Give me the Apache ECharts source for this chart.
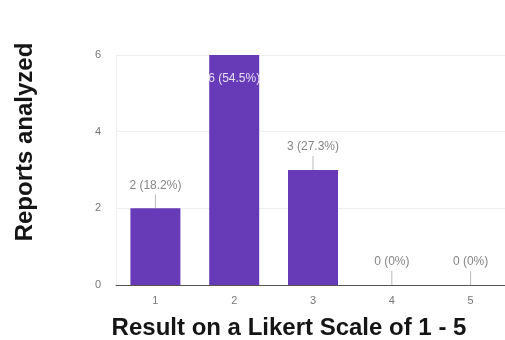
<!DOCTYPE html>
<html>
<head>
<meta charset="utf-8">
<script src="https://cdn.jsdelivr.net/npm/echarts@6/dist/echarts.min.js"></script>
<style>
  html, body { margin: 0; padding: 0; background: #fff; }
  #chart { width: 505px; height: 340px; }
</style>
</head>
<body>
<div id="chart"></div>
<script>
// Likert score distribution of analyzed reports
const categories = ['1', '2', '3', '4', '5'];
const counts = [2, 6, 3, 0, 0];
const yTicks = [0, 2, 4, 6];
const xTitle = 'Result on a Likert Scale of 1 - 5';
const yTitle = 'Reports analyzed';

const total = counts.reduce((a, b) => a + b, 0);
const pct = v => {
  const p = Math.round(v / total * 1000) / 10;
  return p + '%';
};
const labelText = v => v + ' (' + pct(v) + ')';
const yMax = yTicks[yTicks.length - 1];

const chart = echarts.init(document.getElementById('chart'));

// bars that reach the top of the scale get their label inside
const barData = counts.map(v => ({
  value: v,
  label: v >= yMax ? {
    show: true, position: 'insideTop', distance: 18,
    color: '#e6e0f2', fontSize: 12,
    formatter: () => labelText(v)
  } : { show: false }
}));

// short leader ticks with labels above the shorter bars
const tickData = counts.map((v, i) => v >= yMax ? null : [i, v]);

const titleFont = {
  fontFamily: 'Liberation Sans', fontWeight: 'bold', fontSize: 24, fill: '#151515',
  align: 'center', verticalAlign: 'middle'
};

chart.setOption({
  animation: false,
  grid: { left: 116, top: 55, width: 394, height: 230, outerBoundsMode: 'none' },
  graphic: [
    {
      type: 'text', x: 289, y: 328,
      style: Object.assign({ text: xTitle }, titleFont)
    },
    {
      type: 'text', rotation: Math.PI / 2, x: 25, y: 142,
      style: Object.assign({ text: yTitle }, titleFont)
    }
  ],
  xAxis: {
    type: 'category',
    data: categories,
    axisLine: { lineStyle: { color: '#555', width: 1 } },
    axisTick: { show: false },
    axisLabel: { color: '#777', fontSize: 11, margin: 10 }
  },
  yAxis: {
    type: 'value',
    min: 0, max: yMax, interval: 2,
    axisLine: { show: true, lineStyle: { color: '#eee' } },
    axisTick: { show: false },
    axisLabel: { color: '#777', fontSize: 11, margin: 15 },
    splitLine: { lineStyle: { color: '#eee' } }
  },
  series: [
    {
      type: 'bar',
      data: barData,
      barWidth: 50,
      itemStyle: { color: '#673ab7' }
    },
    {
      type: 'scatter',
      data: tickData,
      symbol: 'rect',
      symbolSize: [1, 14],
      symbolOffset: [0, -7],
      itemStyle: { color: '#aaa' },
      label: {
        show: true, position: 'top', distance: 3,
        color: '#666', fontSize: 12,
        formatter: p => labelText(p.value[1])
      },
      z: 3
    }
  ]
});
</script>
</body>
</html>
